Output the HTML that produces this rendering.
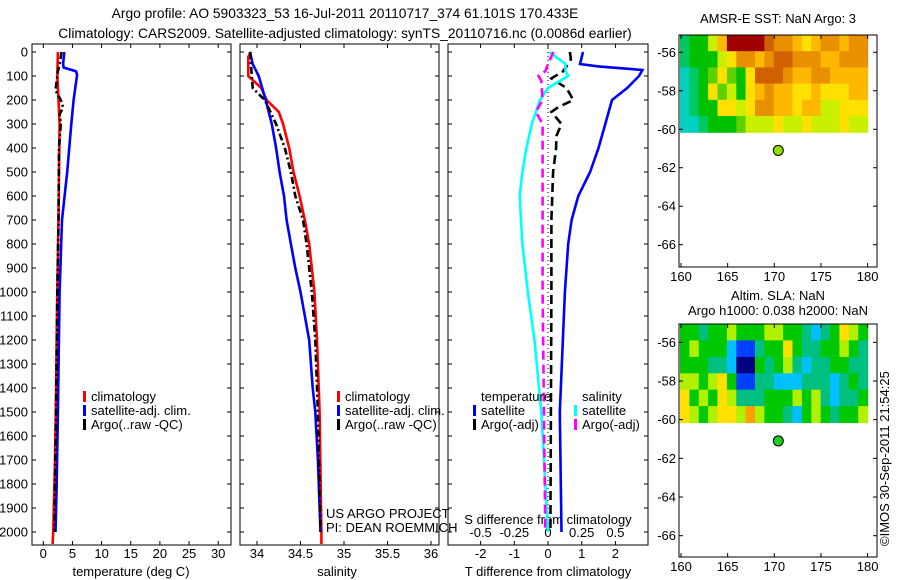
<!DOCTYPE html>
<html><head><meta charset="utf-8"><style>
html,body{margin:0;padding:0;background:#fff;}
svg{display:block;font-family:"Liberation Sans",sans-serif;}
text{font-size:13px;fill:#000;}
text.big{font-size:13.8px;}
</style></head><body>
<svg id="fig" width="900" height="580" xmlns="http://www.w3.org/2000/svg">
<rect width="900" height="580" fill="#fff"/>
<text class="big" x="345" y="18" text-anchor="middle">Argo profile: AO 5903323_53 16-Jul-2011 20110717_374 61.101S 170.433E</text>
<text class="big" x="345" y="38" text-anchor="middle">Climatology: CARS2009. Satellite-adjusted climatology: synTS_20110716.nc (0.0086d earlier)</text>
<text x="778" y="23" text-anchor="middle">AMSR-E SST: NaN Argo: 3</text>
<text x="778" y="300" text-anchor="middle">Altim. SLA: NaN</text>
<text x="778" y="315" text-anchor="middle">Argo h1000: 0.038 h2000: NaN</text>
<text transform="translate(889,546) rotate(-90)">©IMOS 30-Sep-2011 21:54:25</text>
<g id="g"></g>
</svg>
<script>
// ---------- data ----------
const depthTicks=[0,100,200,300,400,500,600,700,800,900,1000,1100,1200,1300,1400,1500,1600,1700,1800,1900,2000];
const tempTicks=[0,5,10,15,20,25,30];
const salTicks=[34,34.5,35,35.5,36];
const tdTicks=[-2,-1,0,1,2];
const sdTicks=[-0.5,-0.25,0,0.25,0.5];
const sdTickLabels=["-0.5","-0.25","0","0.25","0.5"];
const lonTicks=[160,165,170,175,180];
const latTicks=[-56,-58,-60,-62,-64,-66];
// temperature panel
const tClimD=[0,100,200,300,500,700,1000,1400,1700,2000,2050];
const tClimV=[2.5,2.4,2.6,2.8,2.7,2.6,2.4,2.2,2.0,1.7,1.6];
const tSatD=[0,50,65,80,95,200,300,500,700,1000,1500,1800,2000];
const tSatV=[3.6,3.4,3.5,5.6,5.8,5.2,4.8,4.1,3.2,2.8,2.5,2.3,2.1];
const tArgoD=[0,40,80,120,160,200,230,260,300,400,700,1000,1500,2000];
const tArgoV=[3.1,2.9,2.5,2.3,2.1,3.0,3.4,2.8,3.0,2.7,2.6,2.4,2.2,1.9];
// salinity panel
const sClimD=[0,20,100,150,200,250,300,400,500,600,700,800,900,1000,1200,1500,2000,2050];
const sClimV=[33.93,33.90,33.90,34.05,34.11,34.25,34.30,34.37,34.42,34.49,34.55,34.60,34.63,34.66,34.69,34.72,34.74,34.74];
const sSatD=[0,50,100,200,300,400,500,600,700,800,900,1000,1200,1400,1500,1700,2000];
const sSatV=[33.92,33.95,34.02,34.10,34.17,34.22,34.26,34.31,34.34,34.39,34.44,34.50,34.60,34.64,34.67,34.70,34.73];
const sArgoD=[0,100,150,200,300,400,500,600,700,800,1000,1200,1500,2000];
const sArgoV=[33.92,33.94,33.95,34.09,34.22,34.32,34.39,34.44,34.53,34.57,34.63,34.67,34.70,34.73];
// difference panel
const dTSatD=[0,50,60,75,100,150,200,300,400,500,600,700,800,1000,1500,2000];
const dTSatV=[1.04,0.95,1.5,2.8,2.7,2.35,1.9,1.7,1.5,1.25,0.9,0.7,0.6,0.5,0.35,0.4];
const dTArgoD=[0,30,60,80,110,150,200,230,250,300,350,400,500,700,1000,2000];
const dTArgoV=[0.65,0.68,0.55,0.45,0.1,0.55,0.75,0.3,0.1,0.4,0.25,0.24,0.15,0.1,0.1,0.07];
const dSSatD=[0,50,80,100,150,200,300,400,500,600,700,800,1000,1200,1500,2000];
const dSSatV=[0.01,0.13,0.13,0.15,0.0,-0.06,-0.12,-0.16,-0.19,-0.21,-0.20,-0.19,-0.15,-0.10,-0.05,0.0];
const dSArgoD=[0,50,80,100,120,200,250,300,400,600,1000,2000];
const dSArgoV=[0.04,0.0,-0.02,-0.07,-0.05,-0.04,-0.09,-0.04,-0.04,-0.04,-0.04,-0.02];
// maps (rows north->south, columns 160..180 by 1 deg)
const sstGrid=[
[1,2,2,4,6,9,9,9,9,8,7,7,6,5,6,7,7,6,7,7],
[1,2,2,2,4,5,7,7,6,7,8,8,7,7,7,6,6,7,7,7],
[0,1,2,3,5,3,2,5,8,8,8,7,6,6,7,7,6,6,6,6],
[0,1,2,5,3,4,2,5,6,7,6,6,5,5,6,5,5,5,6,6],
[0,1,2,2,5,5,4,5,7,7,6,6,5,6,6,4,4,5,5,5],
[0,0,1,2,2,2,3,4,4,4,5,4,4,5,4,4,4,5,4,4]];
const slaGrid=[
[4,4,3,4,4,5,4,4,4,5,5,4,4,3,2,3,4,6,5,4],
[4,5,4,4,4,2,1,1,3,4,4,6,4,3,3,4,4,5,4,3],
[4,4,4,3,3,2,0,0,4,3,4,5,3,2,3,3,4,4,3,3],
[5,5,4,5,6,4,1,1,3,3,2,2,2,3,3,3,2,3,4,3],
[6,4,5,4,6,5,3,3,3,4,4,4,5,4,5,3,2,3,3,4],
[6,5,4,5,6,6,5,7,5,4,4,3,2,4,5,4,3,4,4,5]];
const argoLon=[170.43];
const argoLat=[-61.10];
// ---------- drawing ----------
const NS="http://www.w3.org/2000/svg";
const G=document.getElementById('g');
function mk(tag,at,parent){const e=document.createElementNS(NS,tag);for(const k in at)e.setAttribute(k,at[k]);(parent||G).appendChild(e);return e;}
const yD=d=>52+d*0.24;
function line(x1,y1,x2,y2,c,w){return mk('line',{x1,y1,x2,y2,stroke:c||'#000','stroke-width':w||1});}
function txt(x,y,s,anchor){const t=mk('text',{x,y,'text-anchor':anchor||'start'});t.textContent=s;return t;}
function frame(x0,x1,y0,y1,name){const r=mk('rect',{x:x0,y:y0,width:x1-x0,height:y1-y0,fill:'none',stroke:'#000','stroke-width':1});

}
function series(D,V,fx,col,dash,name,w){
 let pts=D.map((d,i)=>fx(V[i]).toFixed(1)+','+yD(d).toFixed(1)).join(' ');
 const p=mk('polyline',{points:pts,fill:'none',stroke:col,'stroke-width':w||2.6});
 if(dash)p.setAttribute('stroke-dasharray',dash);
 
 }
function depthAxis(x0,x1,labels){
 depthTicks.forEach(d=>{const y=yD(d);line(x0,y,x0+4,y);line(x1-4,y,x1,y);if(labels)txt(x0-4,y+4.5,String(d),'end');});}
function xAxis(x0,x1,ticks,fx,lbls,yb,ly,yt){
 ticks.forEach((v,i)=>{const x=fx(v);line(x,yb,x,yb-4);line(x,yt,x,yt+4);txt(x,ly,lbls?lbls[i]:String(v),'middle');});}
function legendEntry(x,y,col,label,name){
 const r=mk('rect',{x,y:y-10,width:3,height:11,fill:col});
 
 
 const t=txt(x+8,y,label);
 
 }
const TOP=44,BOT=545;
// panel 1
const fxT=v=>43.3+v*5.83;
frame(32,231,TOP,BOT,'temperature-panel-frame');
depthAxis(32,231,true);
xAxis(32,231,tempTicks,fxT,null,BOT,558,TOP);
txt(131,576,'temperature (deg C)','middle');
series(tClimD,tClimV,fxT,'#f00',null,'temp-climatology-line');
series(tSatD,tSatV,fxT,'#00f',null,'temp-satellite-line');
series(tArgoD,tArgoV,fxT,'#000','7,3,2,3','temp-argo-line');
legendEntry(83,401,'#f00','climatology','legend-climatology-1');
legendEntry(83,415,'#00f','satellite-adj. clim.','legend-satellite-1');
legendEntry(83,429,'#000','Argo(..raw -QC)','legend-argo-1');
// panel 2
const fxS=v=>257+(v-34)*87;
frame(240,439,TOP,BOT,'salinity-panel-frame');
depthAxis(240,439,false);
xAxis(240,439,salTicks,fxS,null,BOT,558,TOP);
txt(337,576,'salinity','middle');
series(sClimD,sClimV,fxS,'#f00',null,'sal-climatology-line');
series(sSatD,sSatV,fxS,'#00f',null,'sal-satellite-line');
series(sArgoD,sArgoV,fxS,'#000','7,3,2,3','sal-argo-line');
legendEntry(337,401,'#f00','climatology','legend-climatology-2');
legendEntry(337,415,'#00f','satellite-adj. clim.','legend-satellite-2');
legendEntry(337,429,'#000','Argo(..raw -QC)','legend-argo-2');
txt(326,518,'US ARGO PROJECT');
txt(326,532,'PI: DEAN ROEMMICH');
// panel 3
const fxDT=v=>548+v*33.7;
const fxDS=v=>548+v*134.8;
frame(448,648,TOP,BOT,'difference-panel-frame');
depthAxis(448,648,false);
xAxis(448,648,tdTicks,fxDT,["-2","-1","0","1","2"],BOT,558,TOP);
sdTicks.forEach((v,i)=>txt(fxDS(v),537,sdTickLabels[i],'middle'));
txt(548,524,'S difference from climatology','middle');
txt(548,576,'T difference from climatology','middle');
const zl=line(fxDT(0),TOP,fxDT(0),yD(2000),'#000',1);zl.setAttribute('stroke-dasharray','1,3');
series(dTSatD,dTSatV,fxDT,'#00f',null,'tdiff-satellite-line');
series(dTArgoD,dTArgoV,fxDT,'#000','9,5','tdiff-argo-line');
series(dSSatD,dSSatV,fxDS,'#0ff',null,'sdiff-satellite-line');
series(dSArgoD,dSArgoV,fxDS,'#f0f','9,5','sdiff-argo-line');
txt(481,401,'temperature');
txt(582,401,'salinity');
legendEntry(473,415,'#00f','satellite','legend-t-satellite');
legendEntry(473,429,'#000','Argo(-adj)','legend-t-argo');
legendEntry(574,415,'#0ff','satellite','legend-s-satellite');
legendEntry(574,429,'#f0f','Argo(-adj)','legend-s-argo');
// maps
const sstCols=['#00d0c0','#00c860','#00c000','#60d000','#c8f000','#ffe000','#ffb800','#e89000','#d06000','#a00000'];
const slaCols=['#000080','#0040ff','#00c0ff','#00c080','#00c800','#b0f000','#ffe000','#ffa000'];
function map(x0,x1,y0,y1,lat56,latScale,grid,cols,dotCol,name){
 const fx=l=>681+(l-160)*9.33;
 const fy=la=>lat56+(-56-la)*latScale;
 const g=mk('g',{});
 
 
 const nr=grid.length,nc=grid[0].length;
 const latTop=-56+(lat56-y0)/latScale, latBot=-60.15;
 const dl=(latTop-latBot)/nr;
 grid.forEach((row,r)=>row.forEach((v,c)=>{
  const xa=fx(160+c*20.1/nc)-1, xb=fx(160+(c+1)*20.1/nc)-1;
  const ya=fy(latTop-r*dl), yb=fy(latTop-(r+1)*dl);
  mk('rect',{x:xa.toFixed(1),y:ya.toFixed(1),width:(xb-xa+0.6).toFixed(1),height:(yb-ya+0.6).toFixed(1),fill:cols[v]},g);
 }));
 const fr=mk('rect',{x:x0,y:y0,width:x1-x0,height:y1-y0,fill:'none',stroke:'#000'});
 
 
 lonTicks.forEach(l=>{const x=fx(l);line(x,y1,x,y1-4);line(x,y0,x,y0+4);txt(x,y1+14,String(l),'middle');});
 latTicks.forEach(la=>{const y=fy(la);line(x0,y,x0+4,y);line(x1-4,y,x1,y);txt(x0-3,y+4.5,String(la),'end');});
 argoLon.forEach((lo,i)=>{const c=mk('circle',{cx:fx(lo),cy:fy(argoLat[i]),r:5,fill:dotCol,stroke:'#000','stroke-width':1});
  
  });
}
map(679,877,35,267,52.3,19.24,sstGrid,sstCols,'#90e000','sst-map');
map(679,877,324,557,342.3,19.34,slaGrid,slaCols,'#20d020','sla-map');
</script>
</body></html>
